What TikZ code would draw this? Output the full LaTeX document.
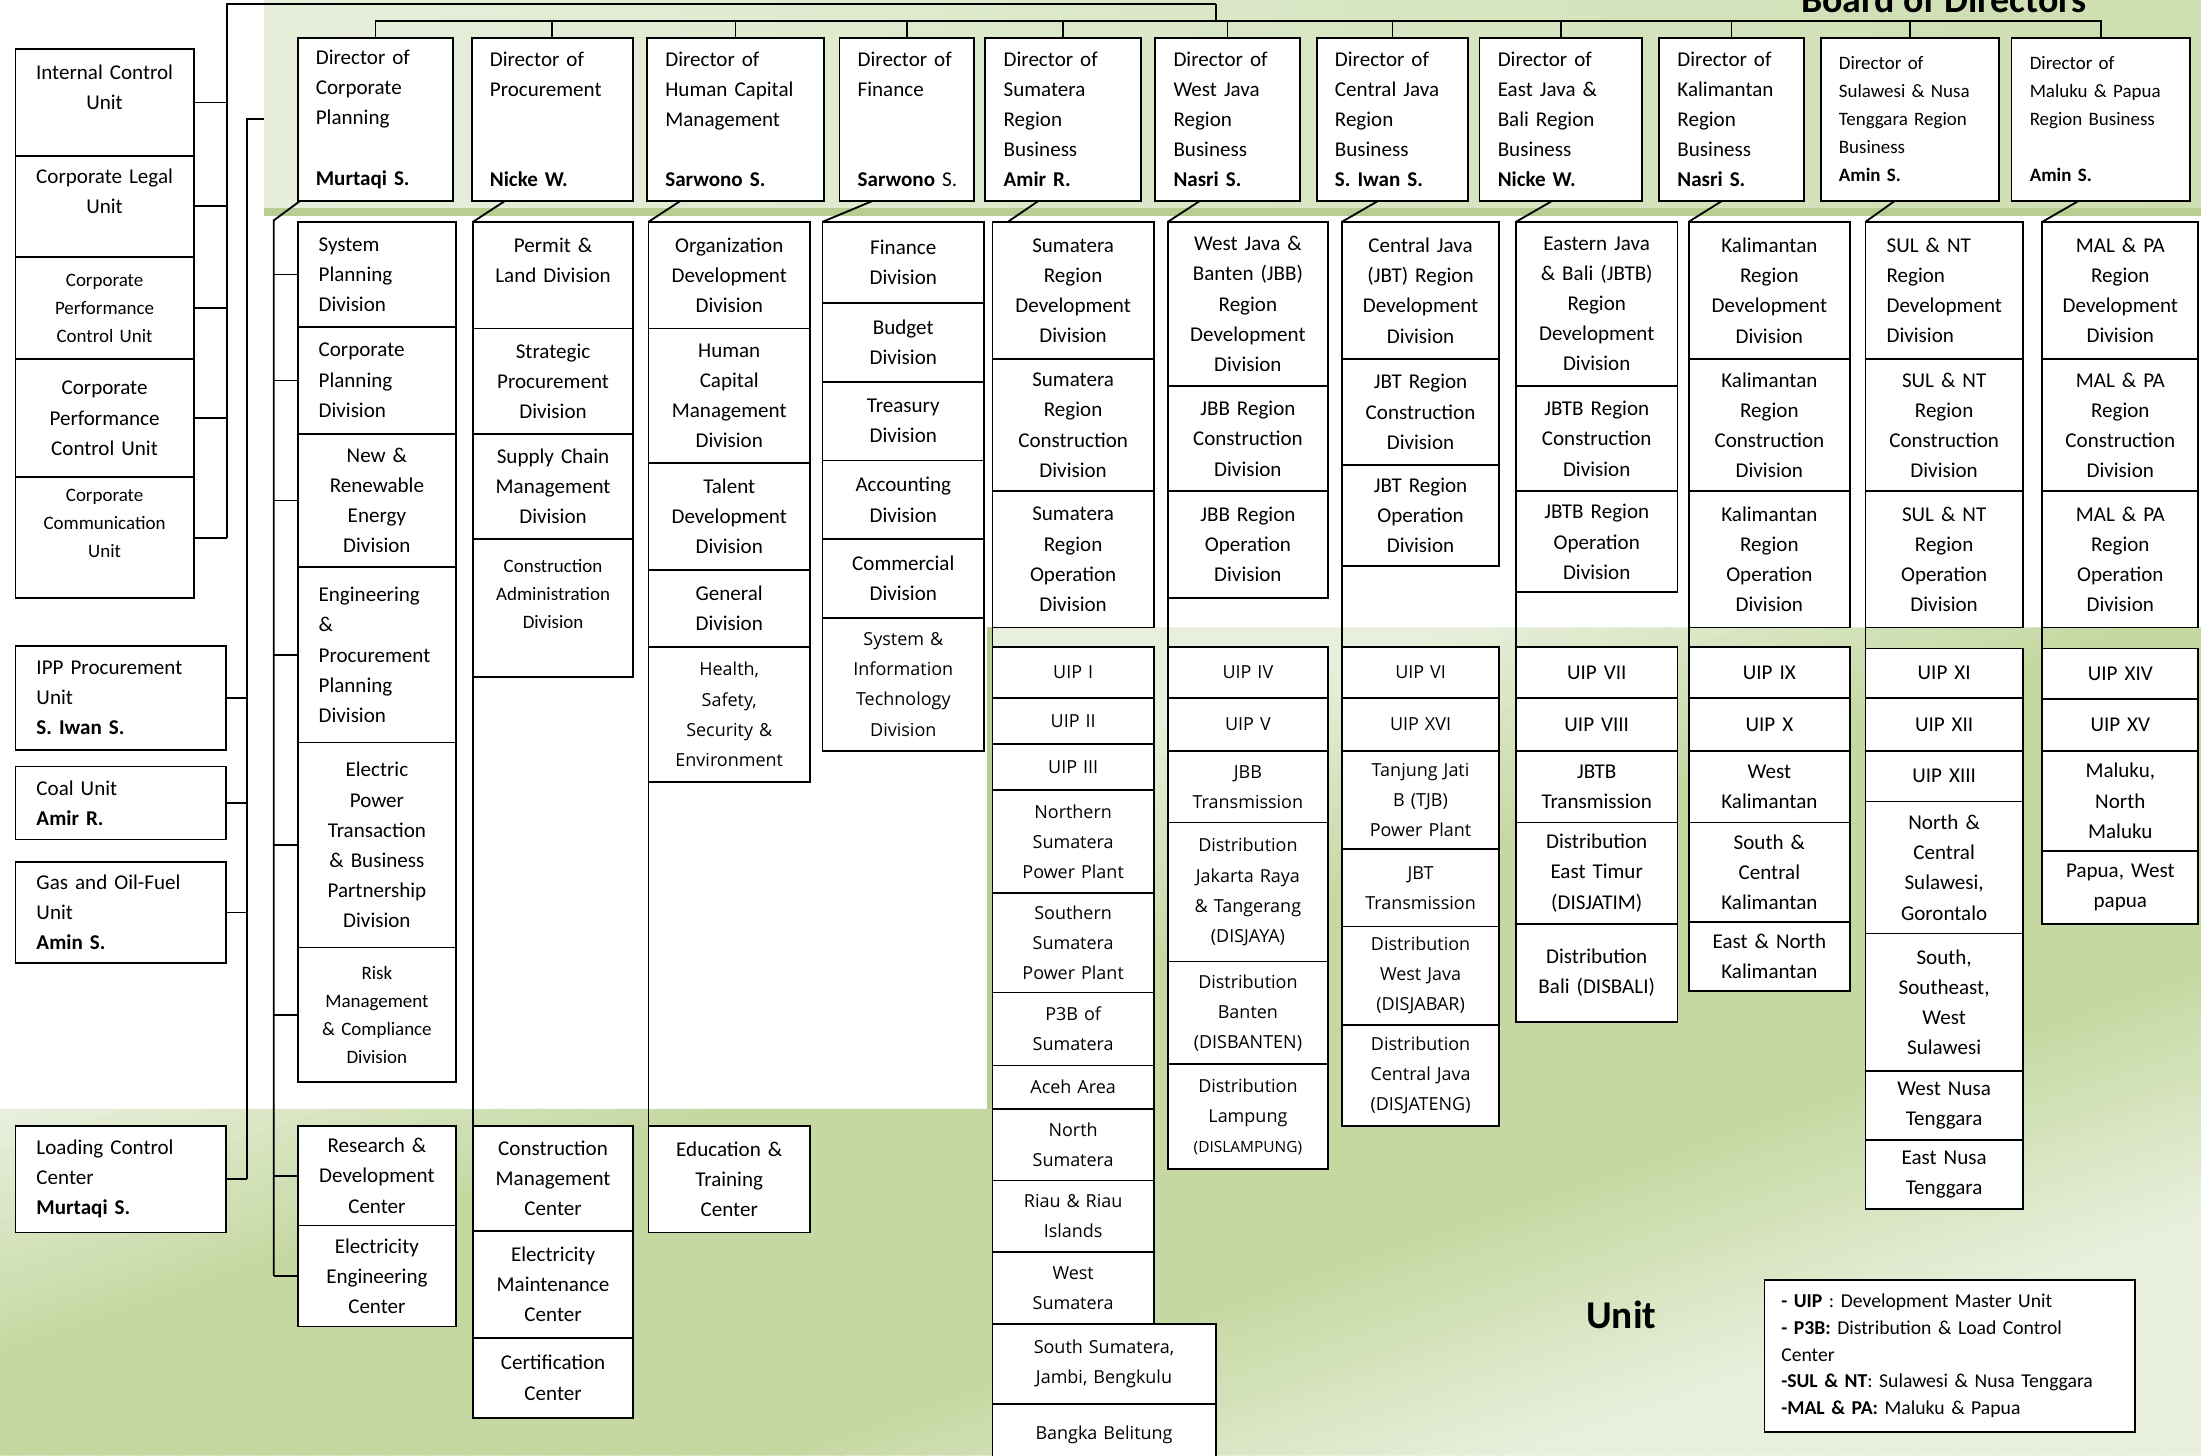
\documentclass[tikz,border=0pt]{standalone}
\usepackage{fontspec}
\setmainfont{Carlito}
\newfontfamily\opensans{Open Sans}
\usetikzlibrary{positioning,calc}

\definecolor{bglight}{RGB}{236,242,227}
\definecolor{bgdark}{RGB}{198,216,162}
\definecolor{panelleft}{RGB}{231,239,220}
\definecolor{panelright}{RGB}{205,222,176}
\definecolor{panelshadow}{RGB}{184,205,146}

\newcommand{\boxfont}{\fontsize{15}{21.5}\selectfont}
\newcommand{\smallboxfont}{\fontsize{13.5}{20}\selectfont}
\newcommand{\unitfont}{\opensans\fontsize{12.8}{21.5}\selectfont}
\newcommand{\legendfont}{\fontsize{14}{19}\selectfont}

\begin{document}
\begin{tikzpicture}[x=1pt, y=-1pt]
        % Styles
        \tikzstyle{orgbox} = [rectangle, draw, fill=white, line width=1.3pt, outer sep=0pt, inner xsep=4pt, inner ysep=2pt, align=center, font=\boxfont]
        \tikzstyle{lbox} = [orgbox, align=left, inner xsep=15pt]
        \tikzstyle{dirbox} = [orgbox, align=left, inner xsep=13pt, minimum height=116pt, anchor=north west]
        \tikzstyle{unitbox} = [orgbox, font=\unitfont]
        \tikzstyle{plancol} = [text width=105pt]
        \tikzstyle{proccol} = [text width=106pt]
        \tikzstyle{hcapcol} = [text width=107pt]
        \tikzstyle{fincol} = [text width=107pt]
        \tikzstyle{sumcol} = [text width=107pt]
        \tikzstyle{jbbcol} = [text width=106pt]
        \tikzstyle{jbtcol} = [text width=104pt]
        \tikzstyle{jbtbcol} = [text width=107pt]
        \tikzstyle{kalcol} = [text width=107pt]
        \tikzstyle{sulcol} = [text width=104pt]
        \tikzstyle{malcol} = [text width=103pt]
        \tikzstyle{line} = [draw, line width=1.3pt]

        % Background
        \useasboundingbox (0,0) rectangle (1568,1037);
        \clip (0,0) rectangle (1568,1037);
        \fill [white] (0,0) rectangle (1568,1037);
        \shade [left color=panelleft, right color=panelright] (188,0) rectangle (1568,150);
        \fill [panelshadow] (188,148) rectangle (1568,154);
        \begin{scope}
            \clip (705,447) -- (1568,447) -- (1568,1037) -- (0,1037) -- (0,790) -- (705,790) -- cycle;
            \foreach \t in {670,680,...,1590} {
                \pgfmathsetmacro{\p}{max(10,min(100,10+(\t-790)*0.53,10+(1400-\t)*0.5))}
                \fill [bgdark!\p!bglight] (-10,\t+3.4) -- (1600,\t-544) -- (1600,\t-533) -- (-10,\t+14.4) -- cycle;
            }
        \end{scope}
        \fill [panelshadow] (703,447) rectangle (707,790);

        % Nodes
        \node [dirbox, text width=85pt] (d1) at (212,27) {Director of\\Corporate\\Planning\\~\\\textbf{Murtaqi~S.}};
        \node [dirbox, text width=89pt] (d2) at (336,27) {Director of\\Procurement\\~\\~\\\textbf{Nicke~W.}};
        \node [dirbox, text width=100pt] (d3) at (461,27) {Director of\\Human Capital\\Management\\~\\\textbf{Sarwono~S.}};
        \node [dirbox, text width=70pt] (d4) at (598,27) {Director of\\Finance\\~\\~\\\textbf{Sarwono}~S.};
        \node [dirbox, text width=85pt] (d5) at (702,27) {Director of\\Sumatera\\Region\\Business\\\textbf{Amir~R.}};
        \node [dirbox, text width=77pt] (d6) at (823,27) {Director of\\West Java\\Region\\Business\\\textbf{Nasri~S.}};
        \node [dirbox, text width=82pt] (d7) at (938,27) {Director of\\Central Java\\Region\\Business\\\textbf{S.~Iwan~S.}};
        \node [dirbox, text width=90pt] (d8) at (1054,27) {Director of\\East Java \&\\Bali Region\\Business\\\textbf{Nicke~W.}};
        \node [dirbox, text width=77pt] (d9) at (1182,27) {Director of\\Kalimantan\\Region\\Business\\\textbf{Nasri~S.}};
        \node [dirbox, text width=101pt, font=\smallboxfont] (d10) at (1297,27) {Director of\\Sulawesi \& Nusa\\Tenggara Region\\Business\\\textbf{Amin~S.}};
        \node [dirbox, text width=101pt, font=\smallboxfont] (d11) at (1433,27) {Director of\\Maluku \& Papua\\Region Business\\~\\\textbf{Amin~S.}};

        \node [orgbox, text width=119pt, minimum height=76pt, anchor=north west] (icu) at (11,35) {Internal Control\\Unit\\~};
        \node [orgbox, text width=119pt, minimum height=72pt, below=0pt of icu] (clu) {Corporate Legal\\Unit\\~};
        \node [orgbox, text width=119pt, minimum height=73pt, font=\smallboxfont, below=0pt of clu] (cpc1) {Corporate\\Performance\\Control Unit};
        \node [orgbox, text width=119pt, minimum height=84pt, below=0pt of cpc1] (cpc2) {Corporate\\Performance\\Control Unit};
        \node [orgbox, text width=119pt, minimum height=86pt, font=\smallboxfont, below=0pt of cpc2] (ccu) {Corporate\\Communication\\Unit\\~};

        \node [lbox, text width=120pt, minimum height=74pt, anchor=north west] (ipp) at (11,460) {IPP Procurement\\Unit\\\textbf{S. Iwan S.}};
        \node [lbox, text width=120pt, minimum height=52pt, anchor=north west] (coal) at (11,546) {Coal Unit\\\textbf{Amir R.}};
        \node [lbox, text width=120pt, minimum height=72pt, anchor=north west] (gas) at (11,614) {Gas and Oil-Fuel\\Unit\\\textbf{Amin S.}};
        \node [lbox, text width=120pt, minimum height=76pt, anchor=north west] (lcc) at (11,802) {Loading Control\\Center\\\textbf{Murtaqi S.}};

        \node [lbox, text width=83pt, minimum height=75pt, anchor=north west] (pl1) at (212,158) {System\\Planning\\Division};
        \node [lbox, text width=83pt, minimum height=76pt, below=0pt of pl1] (pl2) {Corporate\\Planning\\Division};
        \node [orgbox, plancol, minimum height=95pt, below=0pt of pl2] (pl3) {New \&\\Renewable\\Energy\\Division};
        \node [lbox, text width=83pt, minimum height=125pt, below=0pt of pl3] (pl4) {Engineering\\\&\\Procurement\\Planning\\Division};
        \node [orgbox, plancol, minimum height=146pt, below=0pt of pl4] (pl5) {Electric\\Power\\Transaction\\\& Business\\Partnership\\Division};
        \node [orgbox, plancol, minimum height=96pt, font=\smallboxfont, below=0pt of pl5] (pl6) {Risk\\Management\\\& Compliance\\Division};
        \node [orgbox, plancol, minimum height=71pt, anchor=north west] (rd) at (212,802) {Research \&\\Development\\Center};
        \node [orgbox, plancol, minimum height=72pt, below=0pt of rd] (ee) {Electricity\\Engineering\\Center};

        \node [orgbox, proccol, minimum height=76pt, anchor=north west] (pr1) at (337,158) {Permit \&\\Land Division\\~};
        \node [orgbox, proccol, minimum height=75pt, below=0pt of pr1] (pr2) {Strategic\\Procurement\\Division};
        \node [orgbox, proccol, minimum height=75pt, below=0pt of pr2] (pr3) {Supply Chain\\Management\\Division};
        \node [orgbox, proccol, minimum height=98pt, font=\smallboxfont, below=0pt of pr3] (pr4) {Construction\\Administration\\Division\\~};
        \node [orgbox, proccol, minimum height=75pt, anchor=north west] (cm) at (337,802) {Construction\\Management\\Center};
        \node [orgbox, proccol, minimum height=76pt, below=0pt of cm] (em) {Electricity\\Maintenance\\Center};
        \node [orgbox, proccol, minimum height=57pt, below=0pt of em] (cc) {Certification\\Center};

        \node [orgbox, hcapcol, minimum height=76pt, anchor=north west] (hc1) at (462,158) {Organization\\Development\\Division};
        \node [orgbox, hcapcol, minimum height=96pt, below=0pt of hc1] (hc2) {Human\\Capital\\Management\\Division};
        \node [orgbox, hcapcol, minimum height=76pt, below=0pt of hc2] (hc3) {Talent\\Development\\Division};
        \node [orgbox, hcapcol, minimum height=55pt, below=0pt of hc3] (hc4) {General\\Division};
        \node [unitbox, hcapcol, minimum height=96pt, below=0pt of hc4] (hc5) {Health,\\Safety,\\Security \&\\Environment};
        \node [orgbox, hcapcol, minimum height=76pt, anchor=north west] (et) at (462,802) {Education \&\\Training\\Center};

        \node [orgbox, fincol, minimum height=58pt, anchor=north west] (fn1) at (586,158) {Finance\\Division};
        \node [orgbox, fincol, minimum height=56pt, below=0pt of fn1] (fn2) {Budget\\Division};
        \node [orgbox, fincol, minimum height=56pt, below=0pt of fn2] (fn3) {Treasury\\Division};
        \node [orgbox, fincol, minimum height=56pt, below=0pt of fn3] (fn4) {Accounting\\Division};
        \node [orgbox, fincol, minimum height=56pt, below=0pt of fn4] (fn5) {Commercial\\Division};
        \node [unitbox, fincol, minimum height=95pt, below=0pt of fn5] (fn6) {System \&\\Information\\Technology\\Division};

        \node [orgbox, sumcol, minimum height=98pt, anchor=north west] (sm1) at (707,158) {Sumatera\\Region\\Development\\Division};
        \node [orgbox, sumcol, minimum height=94pt, below=0pt of sm1] (sm2) {Sumatera\\Region\\Construction\\Division};
        \node [orgbox, sumcol, minimum height=97pt, below=0pt of sm2] (sm3) {Sumatera\\Region\\Operation\\Division};
        \node [unitbox, sumcol, minimum height=36pt, anchor=north west] (su1) at (707,461) {UIP I};
        \node [unitbox, sumcol, minimum height=33pt, below=0pt of su1] (su2) {UIP II};
        \node [unitbox, sumcol, minimum height=33pt, below=0pt of su2] (su3) {UIP III};
        \node [unitbox, sumcol, minimum height=73pt, below=0pt of su3] (su4) {Northern\\Sumatera\\Power Plant};
        \node [unitbox, sumcol, minimum height=71pt, below=0pt of su4] (su5) {Southern\\Sumatera\\Power Plant};
        \node [unitbox, sumcol, minimum height=52pt, below=0pt of su5] (su6) {P3B of\\Sumatera};
        \node [unitbox, sumcol, minimum height=31pt, below=0pt of su6] (su7) {Aceh Area};
        \node [unitbox, sumcol, minimum height=51pt, below=0pt of su7] (su8) {North\\Sumatera};
        \node [unitbox, sumcol, minimum height=51pt, below=0pt of su8] (su9) {Riau \& Riau\\Islands};
        \node [unitbox, sumcol, minimum height=51pt, below=0pt of su9] (su10) {West\\Sumatera};
        \node [unitbox, text width=151pt, minimum height=57pt, anchor=north west] (su11) at (su10.south west) {South Sumatera,\\Jambi, Bengkulu};
        \node [unitbox, text width=151pt, minimum height=45pt, below=0pt of su11] (su12) {Bangka Belitung};

        \node [orgbox, jbbcol, minimum height=117pt, anchor=north west] (jb1) at (832,158) {West Java \&\\Banten (JBB)\\Region\\Development\\Division};
        \node [orgbox, jbbcol, minimum height=75pt, below=0pt of jb1] (jb2) {JBB Region\\Construction\\Division};
        \node [orgbox, jbbcol, minimum height=76pt, below=0pt of jb2] (jb3) {JBB Region\\Operation\\Division};
        \node [unitbox, jbbcol, minimum height=36pt, anchor=north west] (ju1) at (832,461) {UIP IV};
        \node [unitbox, jbbcol, minimum height=38pt, below=0pt of ju1] (ju2) {UIP V};
        \node [unitbox, jbbcol, minimum height=51pt, below=0pt of ju2] (ju3) {JBB\\Transmission};
        \node [unitbox, jbbcol, minimum height=99pt, below=0pt of ju3] (ju4) {Distribution\\Jakarta Raya\\\& Tangerang\\(DISJAYA)};
        \node [unitbox, jbbcol, minimum height=73pt, below=0pt of ju4] (ju5) {Distribution\\Banten\\(DISBANTEN)};
        \node [unitbox, jbbcol, minimum height=75pt, below=0pt of ju5] (ju6) {Distribution\\Lampung\\{\fontsize{11}{21.5}\selectfont(DISLAMPUNG)}};

        \node [orgbox, jbtcol, minimum height=98pt, anchor=north west] (jt1) at (956,158) {Central Java\\(JBT) Region\\Development\\Division};
        \node [orgbox, jbtcol, minimum height=75pt, below=0pt of jt1] (jt2) {JBT Region\\Construction\\Division};
        \node [orgbox, jbtcol, minimum height=72pt, below=0pt of jt2] (jt3) {JBT Region\\Operation\\Division};
        \node [unitbox, jbtcol, minimum height=36pt, anchor=north west] (tu1) at (956,461) {UIP VI};
        \node [unitbox, jbtcol, minimum height=38pt, below=0pt of tu1] (tu2) {UIP XVI};
        \node [unitbox, jbtcol, minimum height=70pt, below=0pt of tu2] (tu3) {Tanjung Jati\\B (TJB)\\Power Plant};
        \node [unitbox, jbtcol, minimum height=55pt, below=0pt of tu3] (tu4) {JBT\\Transmission};
        \node [unitbox, jbtcol, minimum height=70pt, below=0pt of tu4] (tu5) {Distribution\\West Java\\(DISJABAR)};
        \node [unitbox, jbtcol, minimum height=72pt, below=0pt of tu5] (tu6) {Distribution\\Central Java\\(DISJATENG)};

        \node [orgbox, jbtbcol, minimum height=117pt, anchor=north west] (eb1) at (1080,158) {Eastern Java\\\& Bali (JBTB)\\Region\\Development\\Division};
        \node [orgbox, jbtbcol, minimum height=75pt, below=0pt of eb1] (eb2) {JBTB Region\\Construction\\Division};
        \node [orgbox, jbtbcol, minimum height=72pt, below=0pt of eb2] (eb3) {JBTB Region\\Operation\\Division};
        \node [orgbox, jbtbcol, minimum height=36pt, anchor=north west] (eu1) at (1080,461) {UIP VII};
        \node [orgbox, jbtbcol, minimum height=38pt, below=0pt of eu1] (eu2) {UIP VIII};
        \node [orgbox, jbtbcol, minimum height=51pt, below=0pt of eu2] (eu3) {JBTB\\Transmission};
        \node [orgbox, jbtbcol, minimum height=72pt, below=0pt of eu3] (eu4) {Distribution\\East Timur\\(DISJATIM)};
        \node [orgbox, jbtbcol, minimum height=70pt, below=0pt of eu4] (eu5) {Distribution\\Bali (DISBALI)};

        \node [orgbox, kalcol, minimum height=98pt, anchor=north west] (ka1) at (1203,158) {Kalimantan\\Region\\Development\\Division};
        \node [orgbox, kalcol, minimum height=94pt, below=0pt of ka1] (ka2) {Kalimantan\\Region\\Construction\\Division};
        \node [orgbox, kalcol, minimum height=97pt, below=0pt of ka2] (ka3) {Kalimantan\\Region\\Operation\\Division};
        \node [orgbox, kalcol, minimum height=36pt, anchor=north west] (ku1) at (1203,461) {UIP IX};
        \node [orgbox, kalcol, minimum height=38pt, below=0pt of ku1] (ku2) {UIP X};
        \node [orgbox, kalcol, minimum height=51pt, below=0pt of ku2] (ku3) {West\\Kalimantan};
        \node [orgbox, kalcol, minimum height=71pt, below=0pt of ku3] (ku4) {South \&\\Central\\Kalimantan};
        \node [orgbox, kalcol, minimum height=49pt, below=0pt of ku4] (ku5) {East \& North\\Kalimantan};

        \node [lbox, text width=82pt, inner xsep=15pt, minimum height=98pt, anchor=north west] (sl1) at (1329,158) {SUL \& NT\\Region\\Development\\Division};
        \node [orgbox, sulcol, minimum height=94pt, below=0pt of sl1] (sl2) {SUL \& NT\\Region\\Construction\\Division};
        \node [orgbox, sulcol, minimum height=97pt, below=0pt of sl2] (sl3) {SUL \& NT\\Region\\Operation\\Division};
        \node [orgbox, sulcol, minimum height=35pt, anchor=north west] (lu1) at (1329,462) {UIP XI};
        \node [orgbox, sulcol, minimum height=38pt, below=0pt of lu1] (lu2) {UIP XII};
        \node [orgbox, sulcol, minimum height=36pt, below=0pt of lu2] (lu3) {UIP XIII};
        \node [orgbox, sulcol, minimum height=94pt, below=0pt of lu3] (lu4) {North \&\\Central\\Sulawesi,\\Gorontalo};
        \node [orgbox, sulcol, minimum height=98pt, below=0pt of lu4] (lu5) {South,\\Southeast,\\West\\Sulawesi};
        \node [orgbox, sulcol, minimum height=49pt, below=0pt of lu5] (lu6) {West Nusa\\Tenggara};
        \node [orgbox, sulcol, minimum height=49pt, below=0pt of lu6] (lu7) {East Nusa\\Tenggara};

        \node [orgbox, malcol, minimum height=98pt, anchor=north west] (ml1) at (1455,158) {MAL \& PA\\Region\\Development\\Division};
        \node [orgbox, malcol, minimum height=94pt, below=0pt of ml1] (ml2) {MAL \& PA\\Region\\Construction\\Division};
        \node [orgbox, malcol, minimum height=97pt, below=0pt of ml2] (ml3) {MAL \& PA\\Region\\Operation\\Division};
        \node [orgbox, malcol, minimum height=36pt, anchor=north west] (mu1) at (1455,462) {UIP XIV};
        \node [orgbox, malcol, minimum height=37pt, below=0pt of mu1] (mu2) {UIP XV};
        \node [orgbox, malcol, minimum height=71pt, below=0pt of mu2] (mu3) {Maluku,\\North\\Maluku};
        \node [orgbox, malcol, minimum height=52pt, below=0pt of mu3] (mu4) {Papua, West\\papua};

        \node [orgbox, align=left, inner xsep=12pt, text width=240pt, minimum height=108pt, font=\legendfont, anchor=north west] (legend) at (1257,912) {\textbf{- UIP} : Development Master Unit\\\textbf{- P3B:} Distribution \& Load Control\\Center\\\textbf{-SUL \& NT}: Sulawesi \& Nusa Tenggara\\\textbf{-MAL \& PA:} Maluku \& Papua};

        \node [font=\bfseries\fontsize{27}{30}\selectfont, anchor=base] (boardlbl) at (1385,9) {Board of Directors};
        \node [font=\bfseries\fontsize{28}{30}\selectfont] (unitlbl) at (1155,937) {Unit};

        % Edges
        \coordinate (board) at (866,3);
        \coordinate (dirbus) at (866,15);
        \path [line] (board) -- (dirbus);
        \path [line] (d1.north) |- (dirbus) -| (d11.north);
        \foreach \n in {d2,d3,d4,d5,d6,d7,d8,d9,d10}
            \path [line] (\n.north) -- (\n.north |- dirbus);

        \coordinate (staffbus) at (162,3);
        \path [line] (board) -- (staffbus) -- (staffbus |- ccu.east);
        \foreach \n in {icu,clu,cpc1,cpc2,ccu}
            \path [line] (\n.east) -- (\n.east -| staffbus);

        \coordinate (panelin) at (188,85);
        \coordinate (unitbus) at (176,85);
        \path [line] (panelin) -- (unitbus) -- (unitbus |- lcc.east);
        \foreach \n in {ipp,coal,gas,lcc}
            \path [line] (\n.east) -- (\n.east -| unitbus);

        \coordinate (plantop) at (195,157);
        \path [line] ([xshift=2pt]d1.south west) -- (plantop) -- (plantop |- ee.west);
        \foreach \n in {pl1,pl2,pl3,pl4,pl5,pl6,rd,ee}
            \path [line] (\n.west) -- (\n.west -| plantop);

        \path [line] ([xshift=24pt]d2.south west) -- (pr1.north west);
        \path [line] (pr4.south west) -- (cm.north west);
        \path [line] ([xshift=24pt]d3.south west) -- (hc1.north west);
        \path [line] (hc5.south west) -- (et.north west);
        \path [line] ([xshift=24pt]d4.south west) -- (fn1.north west);
        \path [line] ([xshift=38pt]d5.south west) -- ([xshift=11pt]sm1.north west);
        \path [line] (sm3.south west) -- (su1.north west);
        \path [line] ([xshift=32pt]d6.south west) -- (jb1.north west);
        \path [line] (jb3.south west) -- (ju1.north west);
        \path [line] ([xshift=44pt]d7.south west) -- (jt1.north west);
        \path [line] (jt3.south west) -- (tu1.north west);
        \path [line] ([xshift=52pt]d8.south west) -- (eb1.north west);
        \path [line] (eb3.south west) -- (eu1.north west);
        \path [line] ([xshift=45pt]d9.south west) -- (ka1.north west);
        \path [line] (ka3.south west) -- (ku1.north west);
        \path [line] ([xshift=53pt]d10.south west) -- (sl1.north west);
        \path [line] (sl3.south west) -- (lu1.north west);
        \path [line] ([xshift=48pt]d11.south west) -- (ml1.north west);
        \path [line] (ml3.south west) -- (mu1.north west);

    \end{tikzpicture}
\end{document}
